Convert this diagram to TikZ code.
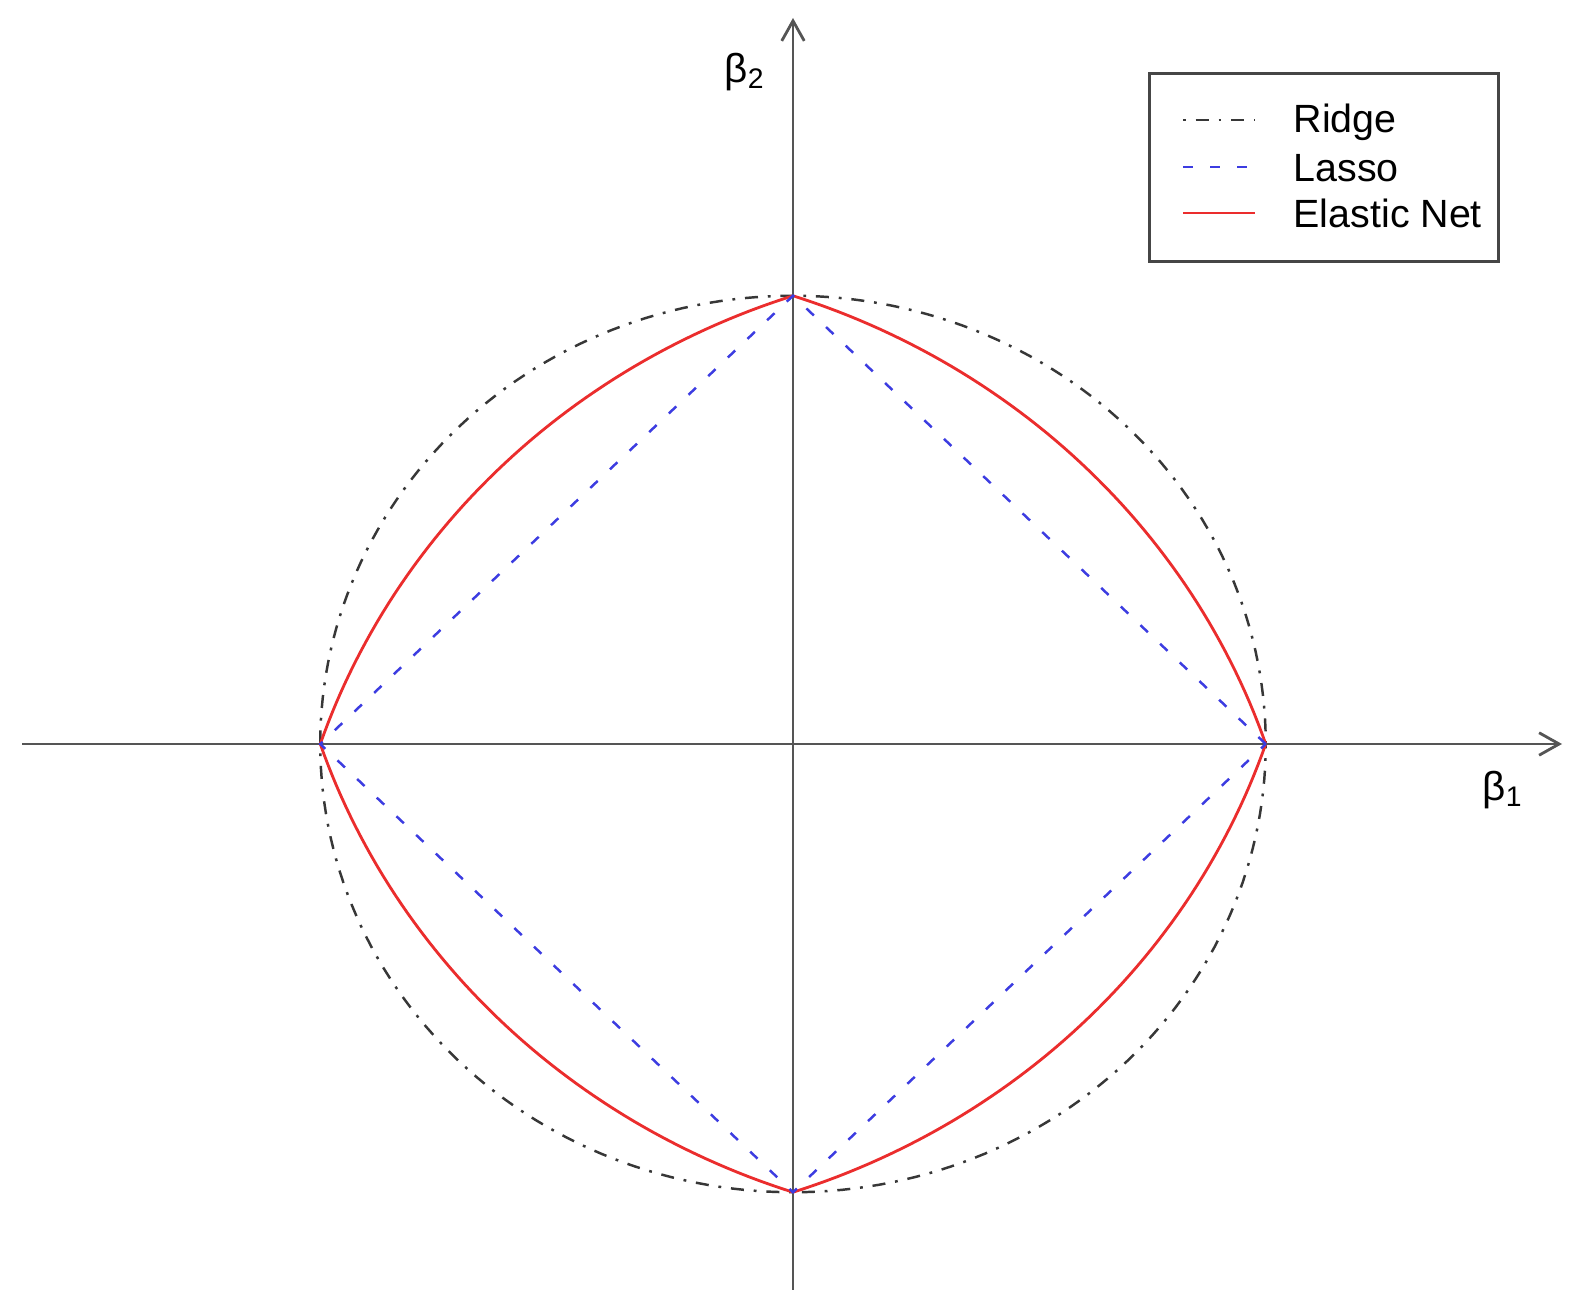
\documentclass[tikz,border=0pt]{standalone}
\usepackage{fontspec}
\setmainfont{Liberation Sans}
\usetikzlibrary{arrows.meta}
\definecolor{ridgecol}{RGB}{55,55,55}
\definecolor{lassocol}{RGB}{60,60,225}
\definecolor{netcol}{RGB}{235,45,45}
\definecolor{axiscol}{RGB}{85,85,85}
\definecolor{boxcol}{RGB}{70,70,70}
\begin{document}
\begin{tikzpicture}[x=0.01cm,y=-0.01cm,
  axisline/.style={draw=axiscol,line width=0.8pt,-{Straight Barb[length=5.7pt,width=6.4pt,line width=0.8pt]}},
  ridgeline/.style={draw=ridgecol,line width=0.7pt,dash pattern=on 0.8pt off 2.8pt on 3.7pt off 2.8pt},
  lassoline/.style={draw=lassocol,line width=0.7pt,dash pattern=on 2.9pt off 4.8pt},
  netline/.style={draw=netcol,line width=0.8pt,line join=round},
  lbl/.style={inner sep=0pt,font=\fontsize{11.5}{13}\selectfont},
  legtext/.style={inner sep=0pt,anchor=base west,font=\fontsize{11.2}{13}\selectfont},
]
\path[use as bounding box] (0,0) rectangle (1590,1313);
\fill[white] (0,0) rectangle (1590,1313);
\coordinate (O) at (793,744);
\coordinate (xl) at (22,744);
\coordinate (xr) at (1562,744);
\coordinate (yb) at (793,1290);
\coordinate (yt) at (793,18);
\begin{scope}[shift={(O)},x=4.725cm,y=4.48cm]
  \draw[ridgeline] plot[domain=0:360,samples=241] ({cos(\x)},{sin(\x)}) -- cycle;
  \draw[netline] plot[domain=18.435:71.565,samples=60] ({-0.5+1.5811*cos(\x)},{-0.5+1.5811*sin(\x)});
  \draw[netline] plot[domain=108.435:161.565,samples=60] ({0.5+1.5811*cos(\x)},{-0.5+1.5811*sin(\x)});
  \draw[netline] plot[domain=198.435:251.565,samples=60] ({0.5+1.5811*cos(\x)},{0.5+1.5811*sin(\x)});
  \draw[netline] plot[domain=288.435:341.565,samples=60] ({-0.5+1.5811*cos(\x)},{0.5+1.5811*sin(\x)});
\end{scope}
\draw[axisline] (xl) -- (xr);
\draw[axisline] (yb) -- (yt);
\begin{scope}[shift={(O)},x=4.725cm,y=4.48cm]
  \draw[lassoline] (1,0) -- (0,1) -- (-1,0) -- (0,-1) -- cycle;
\end{scope}
\node[lbl] (b2) at (745,72) {β\textsubscript{2}};
\node[lbl] (b1) at (1503,790) {β\textsubscript{1}};
\node[draw=boxcol,line width=0.9pt,inner sep=0pt,minimum width=3.49cm,minimum height=1.88cm,anchor=north west] (legend) at (1148,72) {};
\coordinate (r1) at (1183,120); \coordinate (r2) at (1255,120);
\coordinate (l1) at (1183,167); \coordinate (l2) at (1255,167);
\coordinate (e1) at (1183,213); \coordinate (e2) at (1255,213);
\draw[ridgeline] (r1) -- (r2);
\draw[lassoline] (l1) -- (l2);
\draw[netline] (e1) -- (e2);
\node[legtext] (tr) at (1293,133) {Ridge};
\node[legtext] (tl) at (1293,182) {Lasso};
\node[legtext] (te) at (1293,228) {Elastic Net};
\end{tikzpicture}
\end{document}
